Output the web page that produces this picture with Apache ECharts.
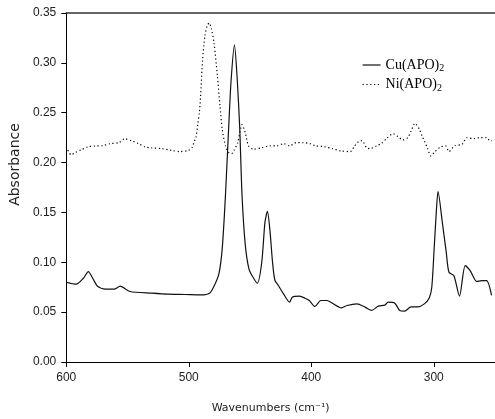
<!DOCTYPE html>
<html>
<head>
<meta charset="utf-8">
<script src="https://cdn.jsdelivr.net/npm/echarts@6/dist/echarts.min.js"></script>
<style>
  html, body { margin: 0; padding: 0; background: #fff; }
  #chart { width: 495px; height: 419px; }
</style>
</head>
<body>
<div id="chart"></div>
<script>
// Cu(APO)2 - solid line
var cuWn = [600, 592, 586, 582, 578, 574.5, 568, 561, 556, 548, 530, 517, 503, 490, 483,
    479.4, 475.3, 472.6, 470, 467.3, 465.4, 462.7, 460.5, 458.4, 456.5, 453.9, 451, 448,
    444, 440.4, 437.8, 435.8, 433.8, 431.6, 429.7, 427, 422.5, 417.7, 415.5, 409.6, 405,
    401.6, 397, 392.2, 387, 382.8, 375.3, 370.8, 362.7, 356, 350.7, 345.3, 340, 337.2,
    331.8, 327.8, 323.8, 318.5, 313, 307.7, 303.7, 301.6, 299.7, 297.8, 296.5, 293,
    289.8, 287.6, 283.6, 279, 274.3, 270.3, 264.8, 260.8, 256.8, 252.8];
var cuAbs = [0.080, 0.078, 0.084, 0.0907, 0.083, 0.076, 0.073, 0.073, 0.076, 0.0707, 0.069,
    0.068, 0.0677, 0.0673, 0.069, 0.076, 0.089, 0.115, 0.168, 0.238, 0.283, 0.318, 0.285,
    0.235, 0.167, 0.118, 0.094, 0.086, 0.079, 0.100, 0.140, 0.151, 0.133, 0.100, 0.082,
    0.077, 0.068, 0.060, 0.065, 0.066, 0.064, 0.0617, 0.0557, 0.0617, 0.0617, 0.059,
    0.0543, 0.0567, 0.0583, 0.055, 0.0517, 0.056, 0.057, 0.060, 0.059, 0.0517, 0.051,
    0.0553, 0.0553, 0.0583, 0.0643, 0.075, 0.113, 0.153, 0.171, 0.140, 0.110, 0.090,
    0.0867, 0.066, 0.0967, 0.0917, 0.0807, 0.0817, 0.0817, 0.0667];

// Ni(APO)2 - dotted line
var niWn = [600, 596, 592.8, 588, 582.5, 575.9, 570.5, 563.8, 557, 552.2, 546.4, 541, 535.7,
    530.3, 522.2, 514.2, 507.5, 500.7, 497.3, 495.4, 494.1, 492.7, 491.4, 490.5, 488.7,
    486.8, 485, 483.4, 481.5, 479.4, 476.6, 474.5, 472.6, 470, 467.3, 465, 463.3, 460,
    456.5, 453.9, 451.2, 447.2, 440.4, 433.8, 428.4, 422.5, 417.7, 412.3, 407, 401, 396.2,
    389.5, 382.8, 376, 368, 364.6, 361.3, 358.7, 354.7, 352, 346.6, 342.6, 338.6, 333.2,
    329.2, 325.2, 321.2, 318.5, 315.3, 311.7, 309.6, 307.7, 305, 302.4, 299.2, 294.4,
    290.3, 287.6, 283.1, 276.9, 272.9, 267.5, 262.2, 256.8, 254.1, 252.5];
var niAbs = [0.216, 0.2077, 0.210, 0.2127, 0.2157, 0.2167, 0.217, 0.219, 0.220, 0.224,
    0.2217, 0.219, 0.2157, 0.2147, 0.214, 0.2123, 0.211, 0.212, 0.215, 0.2217, 0.225,
    0.238, 0.250, 0.263, 0.303, 0.327, 0.337, 0.340, 0.334, 0.320, 0.2867, 0.2567, 0.233,
    0.2167, 0.210, 0.209, 0.2117, 0.220, 0.238, 0.230, 0.2167, 0.2133, 0.215, 0.2167,
    0.2167, 0.219, 0.2167, 0.220, 0.220, 0.219, 0.2167, 0.216, 0.214, 0.2117, 0.211,
    0.2167, 0.221, 0.222, 0.2147, 0.214, 0.2167, 0.2193, 0.224, 0.229, 0.226, 0.2227,
    0.225, 0.2317, 0.2393, 0.2333, 0.2267, 0.2217, 0.214, 0.2067, 0.2107, 0.2157, 0.2167,
    0.211, 0.2167, 0.2183, 0.225, 0.224, 0.225, 0.225, 0.2217, 0.222];

var xTicks = [600, 500, 400, 300];
var seriesNames = ['Cu(APO)2', 'Ni(APO)2'];

function pairs(xs, ys) {
    return xs.map(function (x, i) { return [x, ys[i]]; });
}

var chart = echarts.init(document.getElementById('chart'));

var tickFont = { fontFamily: 'Liberation Sans', fontSize: 12, color: '#222' };

chart.setOption({
    animation: false,
    backgroundColor: '#fff',
    grid: { left: 63, top: 13, width: 435, height: 350 },
    legend: {
        orient: 'vertical',
        left: 357,
        top: 53,
        itemWidth: 18,
        itemHeight: 14,
        itemGap: 4,
        data: seriesNames,
        itemStyle: { opacity: 0 },
        lineStyle: { width: 1.2 },
        formatter: function (name) {
            return name.replace(/2$/, '{sub|2}');
        },
        textStyle: {
            fontFamily: 'Liberation Serif',
            fontSize: 14,
            color: '#000',
            rich: {
                sub: { fontFamily: 'Liberation Serif', fontSize: 10, color: '#000', padding: [7, 0, 0, 0] }
            }
        }
    },
    xAxis: [{
        type: 'value',
        inverse: true,
        min: 250,
        max: 600,
        position: 'bottom',
        name: 'Wavenumbers (cm⁻¹)',
        nameLocation: 'middle',
        nameGap: 41,
        nameTextStyle: { fontFamily: 'DejaVu Sans', fontSize: 11, color: '#222', padding: [0, 20, 0, 0] },
        splitLine: { show: false },
        axisLine: { lineStyle: { color: '#000', width: 1 } },
        axisTick: { length: 5, customValues: xTicks, lineStyle: { color: '#000' } },
        axisLabel: Object.assign({ margin: 10, customValues: xTicks }, tickFont)
    }, {
        type: 'value',
        inverse: true,
        min: 250,
        max: 600,
        position: 'top',
        splitLine: { show: false },
        axisLine: { lineStyle: { color: '#333', width: 1.5 } },
        axisTick: { show: false },
        axisLabel: { show: false }
    }],
    yAxis: {
        type: 'value',
        min: 0,
        max: 0.35,
        interval: 0.05,
        name: 'Absorbance',
        nameLocation: 'middle',
        nameGap: 36,
        nameTextStyle: { fontFamily: 'DejaVu Sans', fontSize: 14, color: '#222', padding: [0, 0, 0, 46] },
        splitLine: { show: false },
        axisLine: { show: true, lineStyle: { color: '#000', width: 1 } },
        axisTick: { show: true, length: 5, lineStyle: { color: '#000' } },
        axisLabel: Object.assign({
            margin: 10,
            formatter: function (v) { return v.toFixed(2); }
        }, tickFont)
    },
    series: [{
        name: seriesNames[0],
        type: 'line',
        data: pairs(cuWn, cuAbs),
        showSymbol: false,
        symbol: 'none',
        smooth: 0.25,
        lineStyle: { color: '#111', width: 1.2, type: 'solid' },
        itemStyle: { color: '#111' }
    }, {
        name: seriesNames[1],
        type: 'line',
        data: pairs(niWn, niAbs),
        showSymbol: false,
        symbol: 'none',
        smooth: 0.25,
        lineStyle: { color: '#000', width: 1.2, type: [1.2, 2.6] },
        itemStyle: { color: '#000' }
    }]
});
</script>
</body>
</html>
